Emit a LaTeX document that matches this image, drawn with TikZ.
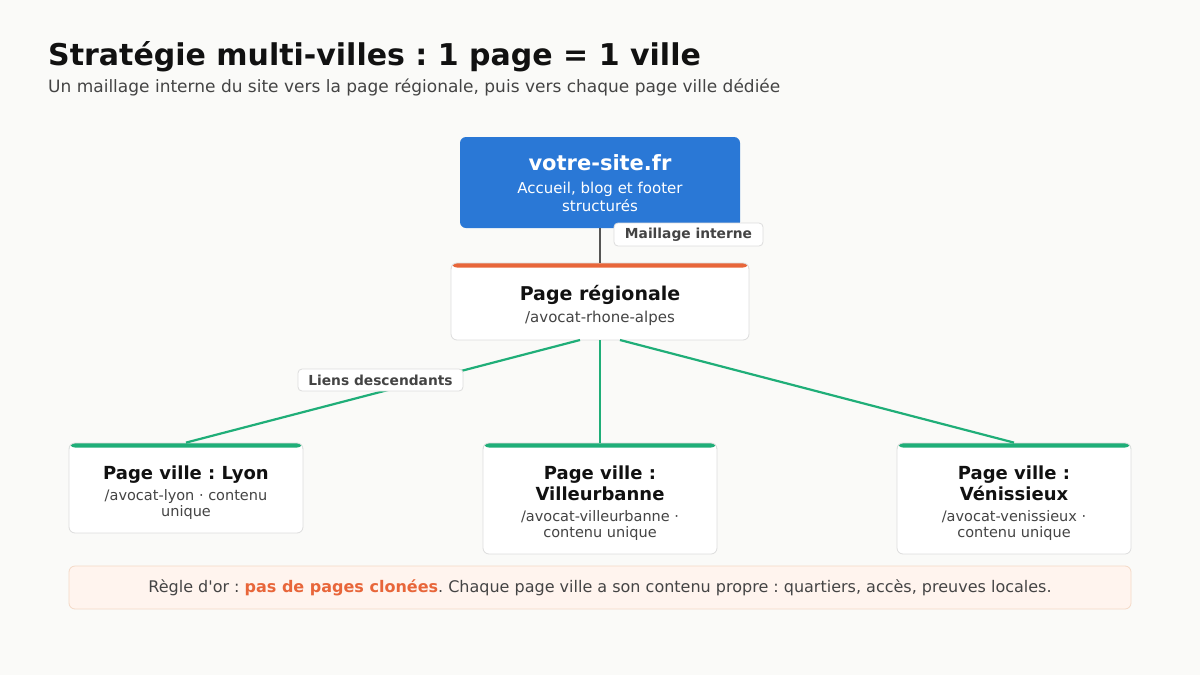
\documentclass[tikz,border=0pt]{standalone}
\usepackage{fontspec}
\setmainfont{DejaVu Sans}[Ligatures=TeXOff]
\frenchspacing
\definecolor{bg}{HTML}{FAFAF8}
\definecolor{blueb}{HTML}{2A78D6}
\definecolor{orangeb}{HTML}{E8663A}
\definecolor{greenb}{HTML}{1FAE78}
\definecolor{greyl}{HTML}{DDDDDD}
\definecolor{txt}{HTML}{111111}
\definecolor{sub}{HTML}{444444}
\definecolor{notebg}{HTML}{FFF4EE}
\definecolor{noteborder}{HTML}{F4D9C6}
\definecolor{edge}{HTML}{555555}
\tikzset{
  card/.style={draw=greyl, line width=0.8pt, fill=white, rounded corners=6pt, inner sep=0pt},
  topbar/.style={path picture={\fill[#1] (path picture bounding box.north west) rectangle ([yshift=-4.5pt]path picture bounding box.north east);}},
  ttl/.style={anchor=base, inner sep=0pt, text=txt, font=\bfseries\fontsize{19}{22}\selectfont},
  subt/.style={anchor=base, inner sep=0pt, text=sub, font=\fontsize{15}{17}\selectfont},
  cttl/.style={anchor=base, inner sep=0pt, text=txt, font=\bfseries\fontsize{18}{21}\selectfont},
  csub/.style={anchor=base, inner sep=0pt, text=sub, font=\fontsize{14.5}{17}\selectfont},
  tag/.style={draw=greyl, line width=0.8pt, fill=white, rounded corners=4pt, inner sep=0pt, text=sub, font=\bfseries\fontsize{13.8}{16}\selectfont},
  greenline/.style={draw=greenb, line width=2.2pt},
}
\begin{document}
\begin{tikzpicture}[x=1pt,y=-1pt]
\fill[bg] (0,0) rectangle (1200,675);
\useasboundingbox (0,0) rectangle (1200,675);
% title
\node[anchor=base west, inner sep=0pt, text=txt, font=\bfseries\fontsize{30}{35}\selectfont] (title) at (48,65) {Stratégie multi-villes : 1 page = 1 ville};
\node[anchor=base west, inner sep=0pt, text=sub, font=\fontsize{17}{20}\selectfont] (subtitle) at (48,92) {Un maillage interne du site vers la page régionale, puis vers chaque page ville dédiée};
% site box
\node[fill=blueb, rounded corners=6pt, minimum width=280pt, minimum height=91pt, inner sep=0pt] (site) at (600,182.5) {};
\node[anchor=base, inner sep=0pt, text=white, font=\bfseries\fontsize{21}{25}\selectfont] (siteT) at (600,170) {votre-site.fr};
\node[anchor=base, inner sep=0pt, text=white, font=\fontsize{15}{17}\selectfont] (siteS1) at (600,193) {Accueil, blog et footer};
\node[anchor=base, inner sep=0pt, text=white, font=\fontsize{15}{17}\selectfont] (siteS2) at (600,211) {structurés};
% regional
\node[card, topbar=orangeb, minimum width=298pt, minimum height=77pt] (reg) at (600,301.5) {};
\draw[edge, line width=2.5pt] (site.south) -- (reg.north);
\node[ttl] (regT) at (600,300) {Page régionale};
\node[subt] (regS) at (600,322) {/avocat-rhone-alpes};
\node[tag, minimum width=149pt, minimum height=23pt] (tag1) at (688.5,234.5) {Maillage interne};
% cities
\node[card, topbar=greenb, minimum width=234pt, minimum height=90pt] (lyon) at (186,488) {};
\node[card, topbar=greenb, minimum width=234pt, minimum height=111pt] (vil) at (600,498.5) {};
\node[card, topbar=greenb, minimum width=234pt, minimum height=111pt] (ven) at (1014,498.5) {};
\coordinate (regL) at (580,340);
\coordinate (regR) at (620,340);
\draw[greenline] (regL) -- (lyon.north);
\draw[greenline] (reg.south) -- (vil.north);
\draw[greenline] (regR) -- (ven.north);
\node[tag, minimum width=165pt, minimum height=22pt] (tag2) at (380.5,380) {Liens descendants};
\node[cttl] (lyonT) at (186,479) {Page ville : Lyon};
\node[csub] (lyonS1) at (186,500) {/avocat-lyon · contenu};
\node[csub] (lyonS2) at (186,516) {unique};
\node[cttl] (vilT1) at (600,479) {Page ville :};
\node[cttl] (vilT2) at (600,500) {Villeurbanne};
\node[csub] (vilS1) at (600,521) {/avocat-villeurbanne ·};
\node[csub] (vilS2) at (600,537) {contenu unique};
\node[cttl] (venT1) at (1014,479) {Page ville :};
\node[cttl] (venT2) at (1014,500) {Vénissieux};
\node[csub] (venS1) at (1014,521) {/avocat-venissieux ·};
\node[csub] (venS2) at (1014,537) {contenu unique};
% note
\node[draw=noteborder, line width=0.8pt, fill=notebg, rounded corners=6pt, minimum width=1062pt, minimum height=43pt, inner sep=0pt] (note) at (600,587.5) {};
\node[anchor=base, inner sep=0pt, text=sub, font=\fontsize{16}{19}\selectfont] (noteT) at (600,592) {Règle d'or : \textcolor{orangeb}{\bfseries pas de pages clonées}. Chaque page ville a son contenu propre : quartiers, accès, preuves locales.};
\end{tikzpicture}
\end{document}
